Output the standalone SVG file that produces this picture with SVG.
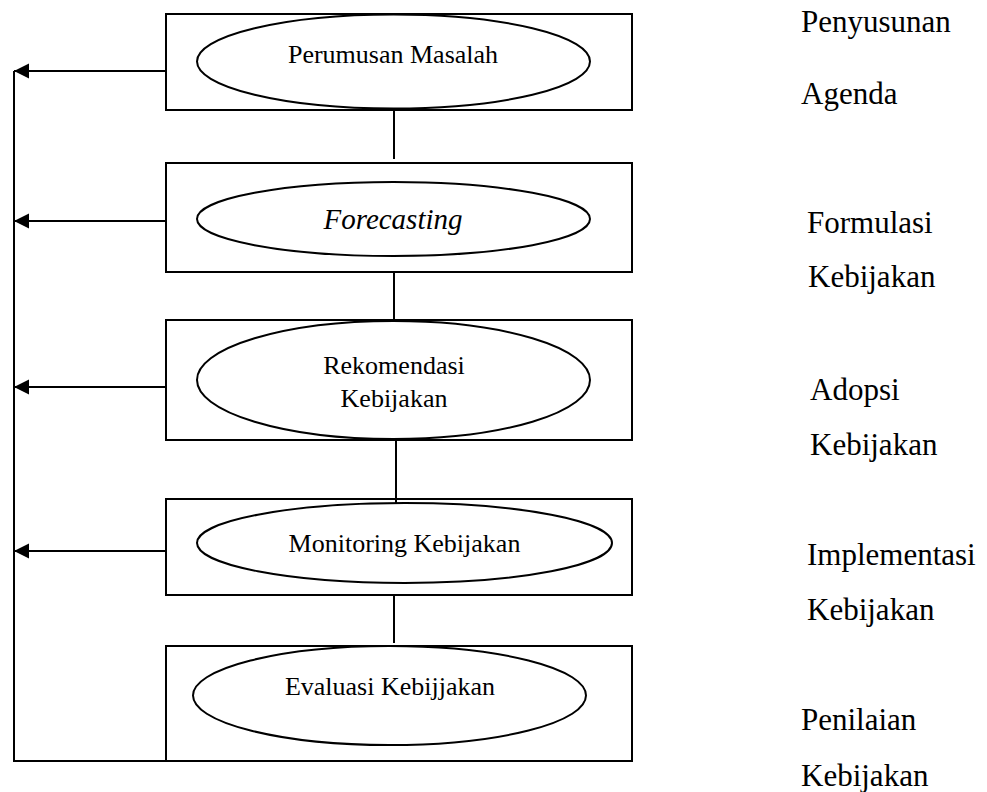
<svg xmlns="http://www.w3.org/2000/svg" width="987" height="792" viewBox="0 0 987 792">
  <style>
    .box { fill: #ffffff; stroke: #000000; stroke-width: 2; }
    .oval { fill: #ffffff; stroke: #000000; stroke-width: 2; }
    .link { fill: none; stroke: #000000; stroke-width: 2; }
    .lbl { font-family: "Liberation Serif", "Times New Roman", serif; font-size: 26px; fill: #000000; text-anchor: middle; }
    .lbl.em { font-style: italic; font-size: 29px; }
    .side { font-family: "Liberation Serif", "Times New Roman", serif; font-size: 31px; fill: #000000; }
  </style>
  <defs>
    <marker id="arrow" markerUnits="userSpaceOnUse" markerWidth="16" markerHeight="16" refX="15" refY="8" orient="auto">
      <path d="M0,0.5 L15,8 L0,15.5 Z" fill="#000000"/>
    </marker>
  </defs>

  <!-- stage nodes -->
  <g id="perumusan-masalah">
    <rect class="box" x="166" y="14" width="466" height="96"/>
    <ellipse class="oval" cx="393.5" cy="61.5" rx="196.5" ry="47"/>
    <text class="lbl" x="393" y="63">Perumusan Masalah</text>
  </g>

  <g id="forecasting">
    <rect class="box" x="166" y="163" width="466" height="109"/>
    <ellipse class="oval" cx="393.5" cy="219" rx="196.5" ry="37"/>
    <text class="lbl em" x="393" y="229">Forecasting</text>
  </g>

  <g id="rekomendasi-kebijakan">
    <rect class="box" x="166" y="320" width="466" height="120"/>
    <ellipse class="oval" cx="393.5" cy="380" rx="196.5" ry="59"/>
    <text class="lbl" x="394" y="374">Rekomendasi</text>
    <text class="lbl" x="394" y="407">Kebijakan</text>
  </g>

  <g id="monitoring-kebijakan">
    <rect class="box" x="166" y="499" width="466" height="96"/>
    <ellipse class="oval" cx="404.5" cy="543" rx="207.5" ry="40"/>
    <text class="lbl" x="404.5" y="552">Monitoring Kebijakan</text>
  </g>

  <g id="evaluasi-kebijakan">
    <rect class="box" x="166" y="646" width="466" height="115"/>
    <ellipse class="oval" cx="389.5" cy="695.5" rx="196.5" ry="49.5"/>
    <text class="lbl" x="390" y="695">Evaluasi Kebijjakan</text>
  </g>

  <!-- connectors -->
  <g id="connectors">
    <line class="link" x1="394" y1="110" x2="394" y2="159"/>
    <line class="link" x1="394" y1="272" x2="394" y2="320"/>
    <line class="link" x1="396" y1="440" x2="396" y2="503"/>
    <line class="link" x1="394" y1="595" x2="394" y2="643"/>
    <polyline class="link" points="166,761 14,761 14,71"/>
    <line class="link" x1="166" y1="71" x2="14" y2="71" marker-end="url(#arrow)"/>
    <line class="link" x1="166" y1="221" x2="14" y2="221" marker-end="url(#arrow)"/>
    <line class="link" x1="166" y1="387" x2="14" y2="387" marker-end="url(#arrow)"/>
    <line class="link" x1="166" y1="551" x2="14" y2="551" marker-end="url(#arrow)"/>
  </g>

  <!-- stage labels -->
  <g id="stage-labels">
    <text class="side" x="801" y="32">Penyusunan</text>
    <text class="side" x="801" y="104">Agenda</text>
    <text class="side" x="807" y="233">Formulasi</text>
    <text class="side" x="808" y="287">Kebijakan</text>
    <text class="side" x="810" y="400">Adopsi</text>
    <text class="side" x="810" y="455">Kebijakan</text>
    <text class="side" x="807" y="565">Implementasi</text>
    <text class="side" x="807" y="620">Kebijakan</text>
    <text class="side" x="801" y="730">Penilaian</text>
    <text class="side" x="801" y="786">Kebijakan</text>
  </g>
</svg>
